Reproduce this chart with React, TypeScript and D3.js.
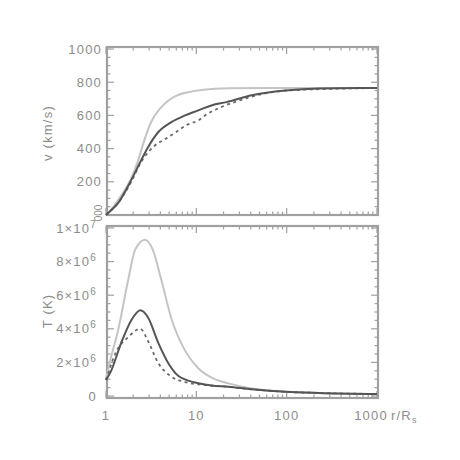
import React from 'react'
import * as d3 from 'd3'

// velocity panel (km/s) vs r/Rs
const vLightR = [1, 1.15, 1.36, 1.9, 2.27, 2.71, 3.16, 4.1, 5.8, 8.1, 12, 22.6, 100, 1000]
const vLight = [0, 35, 90, 220, 330, 465, 560, 650, 715, 740, 755, 763, 765, 765]
const vDarkR = [1, 1.15, 1.36, 1.9, 2.45, 2.93, 3.8, 5.3, 7.5, 10.5, 14.7, 21.5, 41, 97, 226, 1000]
const vDark = [0, 30, 72, 210, 330, 410, 500, 560, 600, 630, 660, 680, 721, 750, 762, 765]
const vDashR = [1, 1.15, 1.36, 1.9, 2.45, 3.5, 4.6, 6, 7.7, 10.5, 13.6, 17.6, 30, 50, 100, 1000]
const vDash = [0, 30, 72, 200, 320, 420, 460, 500, 540, 570, 613, 643, 690, 725, 750, 765]

// temperature panel (10^6 K) vs r/Rs
const tLightR = [1, 1.1, 1.36, 1.76, 2.1, 2.7, 3.3, 4.1, 5.3, 7.5, 10.5, 16, 22.6, 41, 97, 226, 1000]
const tLight = [1.0, 2.0, 3.9, 6.9, 8.7, 9.3, 8.7, 6.9, 4.6, 2.7, 1.65, 1.0, 0.75, 0.45, 0.26, 0.18, 0.12]
const tDarkR = [1, 1.14, 1.47, 1.9, 2.4, 2.9, 3.8, 4.9, 6.3, 9.7, 14.7, 22.6, 41, 97, 226, 1000]
const tDark = [0.95, 1.5, 3.15, 4.5, 5.1, 4.7, 3.15, 1.95, 1.2, 0.8, 0.62, 0.55, 0.4, 0.25, 0.18, 0.12]
const tDashR = [1, 1.08, 1.26, 1.76, 2.4, 2.9, 3.8, 5.3, 7.5, 12, 22.6, 41, 97, 226, 1000]
const tDash = [0.95, 1.5, 2.5, 3.5, 4.0, 3.3, 1.95, 1.15, 0.83, 0.66, 0.55, 0.4, 0.25, 0.18, 0.12]

const xTicks = [1, 10, 100, 1000]
const vTicks = [0, 200, 400, 600, 800, 1000]
const tTicks = [0, 2, 4, 6, 8, 10]
const tTickLabels = ['0', '2×10|6', '4×10|6', '6×10|6', '8×10|6', '1×10|7']

const frame = '#a0a0a0'
const txt = '#8c8c8c'
const font = 'Liberation Sans, Arial, sans-serif'

const App = () => {
  const left = 107
  const right = 378
  const x = d3.scaleLog().domain([1, 1000]).range([106, 377])
  const yV = d3.scaleLinear().domain([0, 1000]).range([215, 49])
  const yT = d3.scaleLinear().domain([0, 10]).range([396, 228])
  const panels = [
    { top: 47, bottom: 215, y: yV, major: vTicks, minorStep: 50, max: 1010, min: 0 },
    { top: 226, bottom: 398, y: yT, major: tTicks, minorStep: 0.5, max: 10.1, min: -0.1 },
  ]

  const line = (y: d3.ScaleLinear<number, number>) =>
    d3
      .line<[number, number]>()
      .x(d => x(d[0]))
      .y(d => y(d[1]))
      .curve(d3.curveMonotoneX)
  const zip = (a: number[], b: number[]) => a.map((r, i) => [r, b[i]] as [number, number])

  const minorX: number[] = []
  for (let p = 1; p <= 100; p *= 10) for (let k = 2; k <= 9; k++) minorX.push(p * k)

  return (
    <svg width={460} height={460} style={{ position: 'absolute', left: 0, top: 0 }}>
      <rect width={460} height={460} fill="#fff" />
      {panels.map((p, pi) => {
        const minors = d3.range(p.min, p.max, p.minorStep).map(v => Math.round(v / p.minorStep) * p.minorStep)
        return (
          <g key={pi}>
            <rect x={left} y={p.top} width={right - left} height={p.bottom - p.top} fill="none" stroke={frame} strokeWidth={2.2} />
            {minors.map((v, i) => {
              const yy = p.y(v)
              if (yy < p.top || yy > p.bottom) return null
              const isMajor = p.major.includes(v)
              const len = isMajor ? 7 : 3.5
              return (
                <g key={i} stroke={frame} strokeWidth={1.2}>
                  <line x1={left} x2={left + len} y1={yy} y2={yy} />
                  <line x1={right - len} x2={right} y1={yy} y2={yy} />
                </g>
              )
            })}
            {xTicks.map(t => (
              <g key={t} stroke={frame} strokeWidth={1.2}>
                <line x1={x(t)} x2={x(t)} y1={p.bottom} y2={p.bottom - 7} />
                <line x1={x(t)} x2={x(t)} y1={p.top} y2={p.top + 7} />
              </g>
            ))}
            {minorX.map(t => (
              <g key={t} stroke={frame} strokeWidth={1.2}>
                <line x1={x(t)} x2={x(t)} y1={p.bottom} y2={p.bottom - 3.5} />
                <line x1={x(t)} x2={x(t)} y1={p.top} y2={p.top + 3.5} />
              </g>
            ))}
          </g>
        )
      })}

      {/* velocity curves */}
      <path d={line(yV)(zip(vLightR, vLight)) || ''} fill="none" stroke="#c4c4c4" strokeWidth={2} />
      <path d={line(yV)(zip(vDashR, vDash)) || ''} fill="none" stroke="#6a6a6a" strokeWidth={1.8} strokeDasharray="3,3.5" />
      <path d={line(yV)(zip(vDarkR, vDark)) || ''} fill="none" stroke="#555" strokeWidth={2} />

      {/* temperature curves */}
      <path d={line(yT)(zip(tLightR, tLight)) || ''} fill="none" stroke="#c4c4c4" strokeWidth={2} />
      <path d={line(yT)(zip(tDashR, tDash)) || ''} fill="none" stroke="#6a6a6a" strokeWidth={1.8} strokeDasharray="3,3.5" />
      <path d={line(yT)(zip(tDarkR, tDark)) || ''} fill="none" stroke="#555" strokeWidth={2} />

      <g fontFamily={font} fontSize={13} fill={txt} letterSpacing={1.2}>
        {vTicks.filter(v => v > 0).map(v => (
          <text key={v} x={102} y={yV(v) + 4.5} textAnchor="end">{v}</text>
        ))}
        <text transform={`translate(102, 213) rotate(-90)`} textAnchor="middle" fontSize={10} letterSpacing={0}>000</text>
        {tTicks.map((v, i) => {
          const [base, sup] = tTickLabels[i].split('|')
          return (
            <text key={v} x={97} y={yT(v) + 4.5} textAnchor="end">
              {base}
              {sup && <tspan dy={-5} fontSize={10}>{sup}</tspan>}
            </text>
          )
        })}
        {xTicks.map(t => (
          <text key={t} x={t === 1000 ? 371 : x(t)} y={420} textAnchor="middle">{t}</text>
        ))}
        <text x={391} y={420}>
          r/R<tspan dy={3} fontSize={9}>s</tspan>
        </text>
        <text transform="translate(52, 133) rotate(-90)" textAnchor="middle">v (km/s)</text>
        <text transform="translate(52, 311) rotate(-90)" textAnchor="middle">T (K)</text>
      </g>
    </svg>
  )
}

export default App
